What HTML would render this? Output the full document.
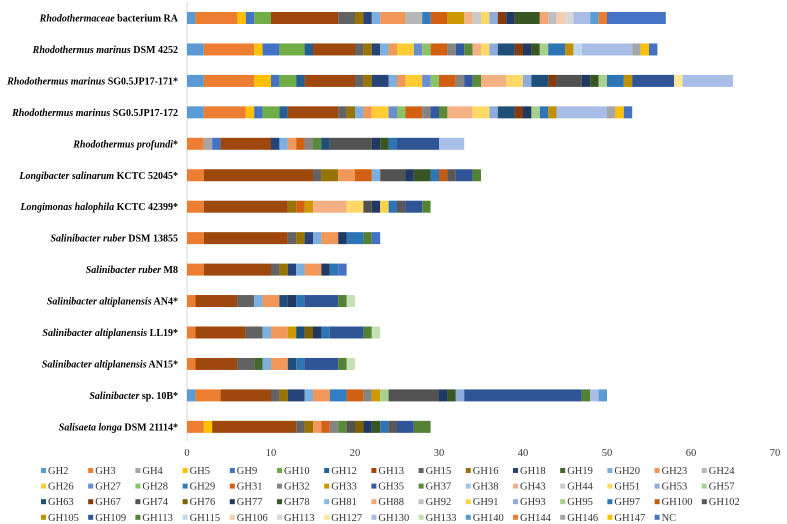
<!DOCTYPE html>
<html><head><meta charset="utf-8"><style>
html,body{margin:0;padding:0;background:#fff;width:787px;height:524px;overflow:hidden}
svg{display:block;font-family:"Liberation Serif",serif}
</style></head><body>
<svg id="chart" width="787" height="524" viewBox="0 0 787 524"></svg>
<script>
const categories=["GH2","GH3","GH4","GH5","GH9","GH10","GH12","GH13","GH15","GH16","GH18","GH19","GH20","GH23","GH24","GH26","GH27","GH28","GH29","GH31","GH32","GH33","GH35","GH37","GH38","GH43","GH44","GH51","GH53","GH57","GH63","GH67","GH74","GH76","GH77","GH78","GH81","GH88","GH92","GH91","GH93","GH95","GH97","GH100","GH102","GH105","GH109","GH113","GH115","GH106","GH113b","GH127","GH130","GH133","GH140","GH144","GH146","GH147","NC"];
const colors=["#5B9BD5","#ED7D31","#A5A5A5","#FFC000","#4472C4","#70AD47","#255E91","#9E480E","#636363","#997300","#264478","#43682B","#7CAFDD","#F1975A","#B7B7B7","#FFCD33","#698ED0","#8CC168","#327DC2","#D26012","#848484","#CC9A00","#335AA1","#5A8A39","#9DC3E6","#F4B183","#C9C9C9","#FFD966","#8FAADC","#A9D18E","#1F4E79","#843C0C","#525252","#7F6000","#203864","#375623","#86BBE6","#F4A574","#BFBFBF","#FFD34D","#8FAADC","#A9D18E","#2E75B6","#C55A11","#595959","#BF9000","#2F5597","#548235","#BDD7EE","#F8CBAD","#D9D9D9","#FFE699","#A9BEE6","#C5E0B4","#5B9BD5","#ED7D31","#A5A5A5","#FFC000","#4472C4"];
const genomeItalic=["Rhodothermaceae","Rhodothermus marinus","Rhodothermus marinus","Rhodothermus marinus","Rhodothermus profundi","Longibacter salinarum","Longimonas halophila","Salinibacter ruber","Salinibacter ruber","Salinibacter altiplanensis","Salinibacter altiplanensis","Salinibacter altiplanensis","Salinibacter","Salisaeta longa"];
const genomeRest=[" bacterium RA"," DSM 4252"," SG0.5JP17-171*"," SG0.5JP17-172","*"," KCTC 52045*"," KCTC 42399*"," DSM 13855"," M8"," AN4*"," LL19*"," AN15*"," sp. 10B*"," DSM 21114*"];
const segCats=[
["GH2","GH3","GH5","GH9","GH10","GH13","GH15","GH16","GH18","GH20","GH23","GH24","GH29","GH31","GH33","GH43","GH44","GH51","GH53","GH67","GH77","GH78","GH88","GH92","GH106","GH113b","GH130","GH140","GH144","NC"],
["GH2","GH3","GH5","GH9","GH10","GH12","GH13","GH15","GH16","GH18","GH20","GH23","GH26","GH27","GH28","GH31","GH32","GH35","GH37","GH43","GH51","GH53","GH63","GH67","GH77","GH78","GH95","GH97","GH105","GH115","GH130","GH146","GH147","NC"],
["GH2","GH3","GH5","GH9","GH10","GH12","GH13","GH15","GH16","GH18","GH20","GH23","GH26","GH27","GH28","GH31","GH32","GH35","GH37","GH43","GH51","GH53","GH63","GH67","GH74","GH77","GH78","GH95","GH97","GH105","GH109","GH127","GH130"],
["GH2","GH3","GH5","GH9","GH10","GH12","GH13","GH15","GH16","GH20","GH23","GH26","GH27","GH28","GH31","GH32","GH35","GH37","GH43","GH51","GH53","GH63","GH67","GH77","GH95","GH97","GH105","GH130","GH146","GH147","NC"],
["GH3","GH4","GH9","GH13","GH18","GH20","GH23","GH31","GH32","GH37","GH63","GH74","GH77","GH78","GH97","GH109","GH130"],
["GH3","GH13","GH15","GH16","GH23","GH31","GH20","GH74","GH77","GH78","GH97","GH100","GH102","GH109","GH113"],
["GH3","GH13","GH16","GH31","GH33","GH43","GH51","GH74","GH77","GH91","GH97","GH102","GH109","GH113"],
["GH3","GH13","GH15","GH16","GH18","GH20","GH23","GH77","GH97","GH113","NC"],
["GH3","GH13","GH15","GH16","GH18","GH20","GH23","GH77","GH97","NC"],
["GH3","GH13","GH15","GH20","GH23","GH63","GH77","GH97","GH109","GH113","GH133"],
["GH3","GH13","GH15","GH20","GH23","GH33","GH63","GH76","GH77","GH97","GH109","GH113","GH133"],
["GH3","GH13","GH15","GH19","GH20","GH23","GH63","GH97","GH109","GH113","GH133"],
["GH2","GH3","GH13","GH15","GH16","GH18","GH20","GH23","GH29","GH31","GH32","GH33","GH57","GH74","GH77","GH78","GH93","GH109","GH113","GH130","GH140"],
["GH3","GH5","GH13","GH15","GH16","GH23","GH31","GH32","GH37","GH74","GH76","GH77","GH78","GH97","GH102","GH109","GH113"]];
const segVals=[
[1,5,1,1,2,8,2,1,1,1,3,2,1,2,2,1,1,1,1,1,1,3,1,1,1,1,2,1,1,7],
[2,6,1,2,3,1,5,1,1,1,1,1,2,1,1,2,1,1,1,1,1,1,2,1,1,1,1,2,1,1,6,1,1,1],
[2,6,2,1,2,1,6,1,1,2,1,1,2,1,1,2,1,1,1,3,2,1,2,1,3,1,1,1,2,1,5,1,6],
[2,5,1,1,2,1,6,1,1,1,1,2,1,1,2,1,1,1,3,2,1,2,1,1,1,1,1,6,1,1,1],
[2,1,1,6,1,1,1,1,1,1,1,5,1,1,1,5,3],
[2,13,1,2,2,2,1,3,1,2,1,1,1,2,1],
[2,10,1,1,1,4,2,1,1,1,1,1,2,1],
[2,10,1,1,1,1,2,1,2,1,1],
[2,8,1,1,1,1,2,1,1,1],
[1,5,2,1,2,1,1,1,4,1,1],
[1,6,2,1,2,1,1,1,1,1,4,1,1],
[1,5,2,1,1,2,1,1,4,1,1],
[1,3,6,1,1,2,1,2,2,2,1,1,1,6,1,1,1,14,1,1,1],
[2,1,10,1,1,1,1,1,1,1,1,1,1,1,1,2,2]];
const xTicks=[0,10,20,30,40,50,60,70];

const svg=document.getElementById('chart');
const NS='http://www.w3.org/2000/svg';
function mk(t,a){const e=document.createElementNS(NS,t);for(const k in a)e.setAttribute(k,a[k]);svg.appendChild(e);return e;}
const x0=187,pxu=8.4;
const xs=v=>x0+v*pxu;
const ys=i=>18+i*31.45;
const barH=12;

const axis=mk('line',{x1:x0,y1:2,x2:x0,y2:441,stroke:'#D9D9D9','stroke-width':1});



xTicks.forEach(t=>{
  const e=mk('text',{x:xs(t),y:456,'text-anchor':'middle','font-size':'10.5',fill:'#333'});
  e.textContent=t;
  
  
});

genomeItalic.forEach((g,i)=>{
  const t=mk('text',{x:178,y:ys(i)+3.5,'text-anchor':'end','font-size':'10','font-weight':'bold',fill:'#000'});
  
  
  const a=document.createElementNS(NS,'tspan');a.setAttribute('font-style','italic');a.textContent=g;t.appendChild(a);
  const b=document.createElementNS(NS,'tspan');b.textContent=genomeRest[i];t.appendChild(b);
  let acc=0;
  segCats[i].forEach((c,j)=>{
    const v=segVals[i][j];
    const r=mk('rect',{x:xs(acc),y:ys(i)-barH/2,width:v*pxu,height:barH,fill:colors[categories.indexOf(c)]});
    
    
    acc+=v;
  });
});

categories.forEach((c,k)=>{
  const row=Math.floor(k/15),col=k%15;
  const lx=41+col*47.2,ly=471+row*15.6;
  const s=mk('rect',{x:lx,y:ly-3,width:5,height:5,fill:colors[k]});
  
  
  const t=mk('text',{x:lx+7,y:ly+3,'font-size':'10.5',fill:'#333'});
  t.textContent=c==='GH113b'?'GH113':c;
  
  
});
</script>
</body></html>
